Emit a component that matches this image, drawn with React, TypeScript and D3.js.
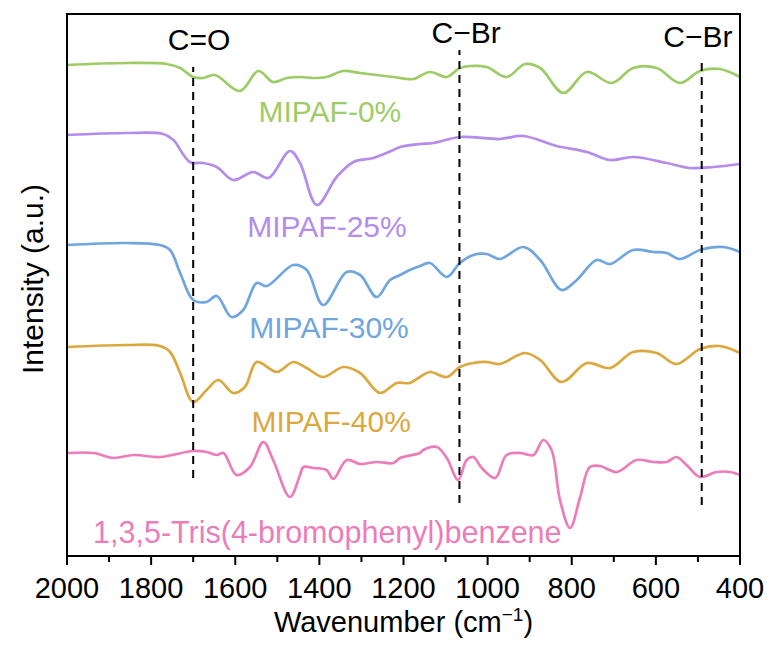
import React from 'react';
import * as d3 from 'd3';

const W = 771;
const H = 648;
const M = { left: 67, top: 14, right: 31, bottom: 92 };

// [wavenumber (cm-1), intensity (a.u., offset)]
const mipaf0: [number, number][] = [
  [2000, 491], [1858, 493], [1763, 492], [1731, 488], [1700, 479], [1676, 478], [1648, 481],
  [1589, 465], [1545, 485], [1510, 474], [1478, 478], [1446, 479], [1414, 478], [1383, 479],
  [1343, 485], [1303, 483], [1264, 481], [1224, 479], [1192, 477], [1176, 477], [1137, 484],
  [1097, 479], [1066, 488], [1042, 490], [1002, 489], [955, 479], [911, 492], [875, 488],
  [820, 463], [764, 484], [705, 473], [654, 488], [598, 488], [543, 473], [495, 485],
  [448, 487], [400, 479],
];

const mipaf25: [number, number][] = [
  [2000, 421], [1858, 423], [1771, 422], [1747, 416], [1708, 394], [1676, 393], [1644, 389],
  [1605, 376], [1557, 384], [1521, 378], [1470, 405], [1446, 393], [1406, 351], [1359, 379],
  [1319, 394], [1272, 398], [1224, 406], [1208, 409], [1161, 412], [1129, 413], [1066, 419],
  [971, 417], [915, 420], [836, 410], [764, 404], [709, 396], [654, 399], [574, 393],
  [519, 388], [463, 389], [400, 392],
];

const mipaf30: [number, number][] = [
  [2000, 311], [1858, 313], [1779, 311], [1755, 306], [1731, 283], [1700, 256], [1668, 254],
  [1644, 260], [1609, 239], [1581, 246], [1549, 273], [1525, 270], [1462, 291], [1430, 286],
  [1391, 251], [1335, 284], [1303, 281], [1264, 259], [1232, 276], [1208, 281], [1185, 286],
  [1161, 290], [1137, 293], [1097, 279], [1066, 293], [1034, 301], [1002, 302], [971, 297],
  [915, 309], [875, 296], [824, 266], [788, 276], [741, 296], [709, 292], [654, 306],
  [606, 304], [574, 303], [543, 297], [495, 306], [440, 309], [400, 304],
];

const mipaf40: [number, number][] = [
  [2000, 209], [1858, 211], [1779, 210], [1755, 204], [1731, 183], [1700, 154], [1668, 166],
  [1640, 176], [1605, 163], [1577, 169], [1549, 194], [1501, 184], [1462, 194], [1430, 188],
  [1391, 179], [1343, 189], [1303, 183], [1256, 163], [1216, 173], [1185, 173], [1161, 179],
  [1137, 184], [1097, 179], [1066, 189], [1034, 193], [1002, 194], [971, 192], [911, 203],
  [875, 196], [824, 174], [764, 193], [709, 188], [654, 204], [598, 203], [551, 192],
  [495, 207], [448, 210], [400, 203],
];

const trisBromo: [number, number][] = [
  [2000, 103], [1937, 103], [1890, 98], [1842, 101], [1779, 99], [1700, 105], [1668, 104],
  [1644, 101], [1628, 103], [1597, 81], [1565, 89], [1533, 114], [1510, 96], [1470, 59],
  [1446, 81], [1438, 89], [1414, 88], [1383, 86], [1367, 77], [1335, 96], [1303, 92],
  [1264, 94], [1224, 93], [1208, 98], [1161, 103], [1153, 106], [1121, 109], [1097, 98],
  [1070, 76], [1050, 96], [1034, 99], [1014, 88], [982, 78], [955, 101], [923, 103],
  [891, 101], [868, 116], [848, 106], [828, 56], [804, 28], [780, 59], [757, 89], [733, 90],
  [693, 84], [646, 96], [606, 94], [574, 94], [551, 99], [527, 91], [495, 79], [456, 84],
  [424, 84], [400, 81],
];

const seriesNames = ['MIPAF-0%', 'MIPAF-25%', 'MIPAF-30%', 'MIPAF-40%', '1,3,5-Tris(4-bromophenyl)benzene'];
const seriesData = [mipaf0, mipaf25, mipaf30, mipaf40, trisBromo];
const seriesColors = ['#9dcc66', '#b58cec', '#6fa6dd', '#dba83e', '#ec7cba'];
// label anchor positions [wavenumber, intensity]
const labelPos: [number, number][] = [[1375, 434], [1382, 319], [1377, 218], [1372, 124], [1938, 13]];
const labelAnchor = ['middle', 'middle', 'middle', 'middle', 'start'];

const xTicks = [2000, 1800, 1600, 1400, 1200, 1000, 800, 600, 400];
const xMinorTicks = [1900, 1700, 1500, 1300, 1100, 900, 700, 500];

// annotated bands: wavenumber, label, dashed line intensity range, label position
const bandNames = ['C=O', 'C\u2212Br', 'C\u2212Br'];
const bandWn = [1700, 1067, 491];
const bandRange: [number, number][] = [[78, 489], [53, 506], [51, 498]];
const bandLabelPos: [number, number][] = [[1686, 506], [1051, 513], [500, 509]];

const FONT = "'Liberation Sans', Arial, Helvetica, sans-serif";

export default function App() {
  const x = d3.scaleLinear().domain([2000, 400]).range([M.left, W - M.right]);
  const y = d3.scaleLinear().domain([0, 542]).range([H - M.bottom, M.top]);
  const line = d3
    .line<[number, number]>()
    .x((d) => x(d[0]))
    .y((d) => y(d[1]))
    .curve(d3.curveCatmullRom.alpha(0.5));

  const bottom = H - M.bottom;

  return (
    <svg
      width={W}
      height={H}
      style={{ position: 'absolute', left: 0, top: 0, background: '#fff' }}
      fontFamily={FONT}
    >
      {seriesData.map((s, i) => (
        <path key={i} d={line(s) || ''} fill="none" stroke={seriesColors[i]} strokeWidth={2.7} strokeLinejoin="round" />
      ))}
      {bandWn.map((wn, i) => (
        <g key={'b' + i}>
          <line
            x1={x(wn)}
            x2={x(wn)}
            y1={y(bandRange[i][0])}
            y2={y(bandRange[i][1])}
            stroke="#000"
            strokeWidth={2}
            strokeDasharray="8,6"
          />
          <text x={x(bandLabelPos[i][0])} y={y(bandLabelPos[i][1])} textAnchor="middle" fontSize={30} fill="#000">
            {bandNames[i]}
          </text>
        </g>
      ))}
      {seriesNames.map((n, i) => (
        <text
          key={'l' + i}
          x={x(labelPos[i][0])}
          y={y(labelPos[i][1])}
          textAnchor={labelAnchor[i] as any}
          fontSize={i === 4 ? 30.5 : 30}
          fill={seriesColors[i]}
        >
          {n}
        </text>
      ))}
      <rect
        x={M.left}
        y={M.top}
        width={W - M.left - M.right}
        height={H - M.top - M.bottom}
        fill="none"
        stroke="#000"
        strokeWidth={2}
      />
      {xTicks.map((t) => (
        <g key={'t' + t}>
          <line x1={x(t)} x2={x(t)} y1={bottom} y2={bottom + 9} stroke="#000" strokeWidth={2} />
          <text x={x(t)} y={bottom + 42} textAnchor="middle" fontSize={29} fill="#000">
            {t}
          </text>
        </g>
      ))}
      {xMinorTicks.map((t) => (
        <line key={'m' + t} x1={x(t)} x2={x(t)} y1={bottom} y2={bottom + 6} stroke="#000" strokeWidth={2} />
      ))}
      <text x={(M.left + W - M.right) / 2} y={632} textAnchor="middle" fontSize={29} fill="#000">
        Wavenumber (cm
        <tspan dy={-11} fontSize={19}>{'\u22121'}</tspan>
        <tspan dy={11}>)</tspan>
      </text>
      <text
        transform={`translate(43, ${(M.top + bottom) / 2 - 6}) rotate(-90)`}
        textAnchor="middle"
        fontSize={30}
        fill="#000"
      >
        Intensity (a.u.)
      </text>
    </svg>
  );
}
